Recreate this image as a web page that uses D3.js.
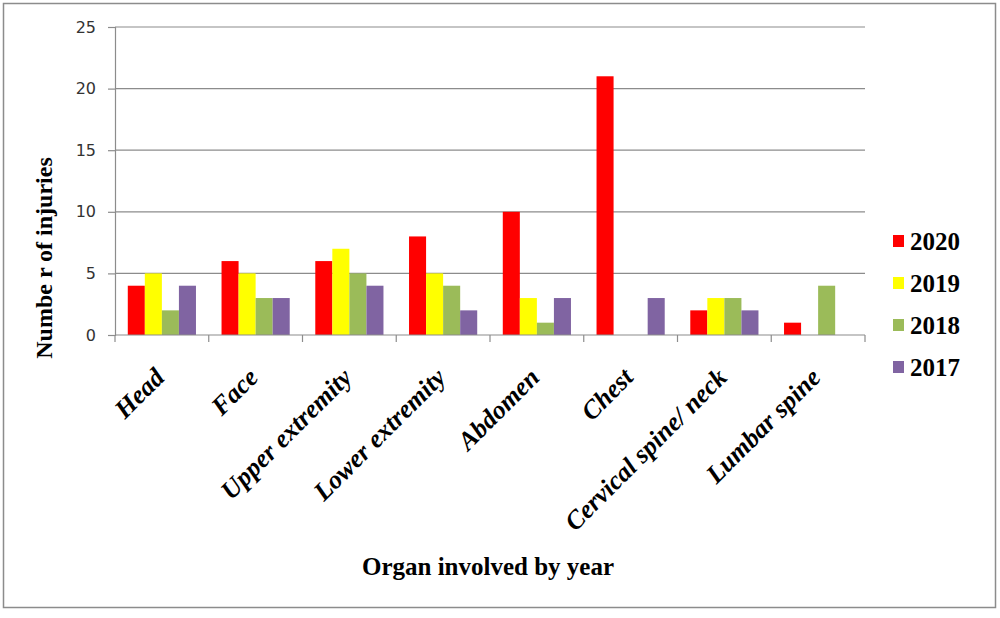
<!DOCTYPE html>
<html>
<head>
<meta charset="utf-8">
<script src="https://cdn.jsdelivr.net/npm/d3@7"></script>
<style>
  body { margin: 0; background: #fff; }
  svg { display: block; }
</style>
</head>
<body>
<svg id="chart" width="1000" height="618"></svg>
<script>
// chart data
const organs = ["Head", "Face", "Upper extremity", "Lower extremity", "Abdomen", "Chest", "Cervical spine/ neck", "Lumbar spine"];
const years = ["2020", "2019", "2018", "2017"];
const injuries2020 = [4, 6, 6, 8, 10, 21, 2, 1];
const injuries2019 = [5, 5, 7, 5, 3, 0, 3, 0];
const injuries2018 = [2, 3, 5, 4, 1, 0, 3, 4];
const injuries2017 = [4, 3, 4, 2, 3, 3, 2, 0];
const yTicks = [0, 5, 10, 15, 20, 25];

const colors = { "2020": "#ff0000", "2019": "#ffff00", "2018": "#9bbb59", "2017": "#8064a2" };
const seriesByYear = { "2020": injuries2020, "2019": injuries2019, "2018": injuries2018, "2017": injuries2017 };

const svg = d3.select("#chart");
const plotLeft = 115, plotRight = 865, plotTop = 27, plotBottom = 335;

// outer frame
svg.append("rect")
  .attr("x", 3.5).attr("y", 3.5)
  .attr("width", 992).attr("height", 604)
  .attr("fill", "none").attr("stroke", "#8c8c8c").attr("stroke-width", 1.5);

const x = d3.scaleBand().domain(organs).range([plotLeft, plotRight]);
const xInner = d3.scaleBand().domain(years).range([0, x.bandwidth()]).paddingOuter(0.75);
const y = d3.scaleLinear().domain([0, 25]).range([plotBottom, plotTop]);

// gridlines
svg.append("g")
  .selectAll("line")
  .data(yTicks.filter(d => d > 0))
  .join("line")
  .attr("x1", plotLeft).attr("x2", plotRight)
  .attr("y1", d => y(d)).attr("y2", d => y(d))
  .attr("stroke", "#8c8c8c").attr("stroke-width", 1.2);

// bars
const groups = svg.append("g")
  .selectAll("g")
  .data(organs)
  .join("g")
  .attr("transform", d => `translate(${x(d)},0)`);

groups.selectAll("rect")
  .data((d, i) => years.map(yr => ({ yr: yr, v: seriesByYear[yr][i] })))
  .join("rect")
  .attr("x", d => xInner(d.yr))
  .attr("width", xInner.bandwidth())
  .attr("y", d => y(d.v))
  .attr("height", d => y(0) - y(d.v))
  .attr("fill", d => colors[d.yr]);

// y axis
const yAxis = svg.append("g")
  .attr("transform", `translate(${plotLeft},0)`)
  .call(d3.axisLeft(y).tickValues(yTicks).tickSize(7).tickPadding(12));
yAxis.select(".domain").attr("stroke", "#8c8c8c").attr("stroke-width", 1.2);
yAxis.selectAll(".tick line").attr("stroke", "#8c8c8c").attr("stroke-width", 1.2);
yAxis.selectAll(".tick text")
  .attr("font-family", "DejaVu Sans, sans-serif")
  .attr("font-size", 16)
  .attr("fill", "#333");

// x axis line and tick marks at band edges
svg.append("line")
  .attr("x1", plotLeft).attr("x2", plotRight)
  .attr("y1", plotBottom).attr("y2", plotBottom)
  .attr("stroke", "#8c8c8c").attr("stroke-width", 1.2);
svg.append("g")
  .selectAll("line")
  .data(organs.map(o => x(o)).concat([x.range()[1]]))
  .join("line")
  .attr("x1", d => d).attr("x2", d => d)
  .attr("y1", plotBottom).attr("y2", plotBottom + 7)
  .attr("stroke", "#8c8c8c").attr("stroke-width", 1.2);

// category labels
svg.append("g")
  .selectAll("text")
  .data(organs)
  .join("text")
  .attr("transform", d => `translate(${x(d) + x.bandwidth() / 2 + 4},${plotBottom + 44}) rotate(-45)`)
  .attr("text-anchor", "end")
  .attr("font-family", "Liberation Serif, Times New Roman, serif")
  .attr("font-weight", "bold")
  .attr("font-style", "italic")
  .attr("font-size", 26)
  .text(d => d);

// axis titles
svg.append("text")
  .attr("transform", "translate(52,258) rotate(-90)")
  .attr("text-anchor", "middle")
  .attr("font-family", "Liberation Serif, Times New Roman, serif")
  .attr("font-weight", "bold")
  .attr("font-size", 24)
  .text("Numbe r of injuries");

svg.append("text")
  .attr("x", 488).attr("y", 575)
  .attr("text-anchor", "middle")
  .attr("font-family", "Liberation Serif, Times New Roman, serif")
  .attr("font-weight", "bold")
  .attr("font-size", 25)
  .text("Organ involved by year");

// legend
const legend = svg.append("g")
  .selectAll("g")
  .data(years)
  .join("g")
  .attr("transform", (d, i) => `translate(893,${241 + i * 42})`);
legend.append("rect")
  .attr("x", 0).attr("y", -6)
  .attr("width", 11).attr("height", 12)
  .attr("fill", d => colors[d]);
legend.append("text")
  .attr("x", 17).attr("y", 9)
  .attr("font-family", "Liberation Serif, Times New Roman, serif")
  .attr("font-weight", "bold")
  .attr("font-size", 25)
  .text(d => d);
</script>
</body>
</html>
